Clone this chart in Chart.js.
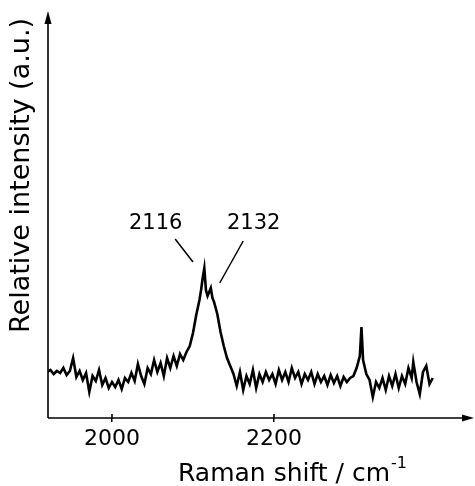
<!DOCTYPE html>
<html>
<head>
<meta charset="utf-8">
<script src="https://cdn.jsdelivr.net/npm/chart.js@4/dist/chart.umd.min.js"></script>
<style>
  body { margin: 0; background: #fff; }
  #wrap { width: 475px; height: 486px; }
</style>
</head>
<body>
<div id="wrap"><canvas id="ramanChart"></canvas></div>
<script>
// Raman shift (cm-1) and relative intensity
const shift = [
  1920, 1924, 1928, 1932, 1936, 1940, 1944, 1948, 1952, 1956,
  1960, 1964, 1968, 1972, 1976, 1980, 1984, 1988, 1992, 1996,
  2000, 2004, 2008, 2012, 2016, 2020, 2024, 2028, 2032, 2036,
  2040, 2044, 2048, 2052, 2056, 2060, 2064, 2068, 2072, 2076,
  2080, 2084, 2088, 2092, 2096, 2100, 2104, 2108, 2110, 2112,
  2114, 2116, 2118, 2120, 2122, 2124, 2126, 2130, 2134, 2138,
  2142, 2146, 2150, 2154, 2158, 2162, 2166, 2170, 2174, 2178,
  2182, 2186, 2190, 2194, 2198, 2202, 2206, 2210, 2214, 2218,
  2222, 2226, 2230, 2234, 2238, 2242, 2246, 2250, 2254, 2258,
  2262, 2266, 2270, 2274, 2278, 2282, 2286, 2290, 2294, 2298,
  2302, 2306, 2308, 2310, 2314, 2318, 2322, 2326, 2330, 2334,
  2338, 2342, 2346, 2350, 2354, 2358, 2362, 2366, 2370, 2372,
  2376, 2380, 2384, 2388, 2392, 2396
];
const intensity = [
  46, 48, 44, 47, 45, 50, 43, 47, 60, 41,
  47, 38, 45, 26, 42, 37, 48, 33, 40, 30,
  36, 31, 38, 29, 40, 36, 45, 37, 54, 42,
  34, 50, 44, 58, 46, 55, 42, 60, 50, 62,
  52, 64, 58, 66, 72, 85, 103, 118, 128, 140,
  150, 128, 122, 126, 130, 120, 116, 104, 86, 72,
  60, 52, 44, 32, 46, 28, 42, 34, 48, 30,
  44, 36, 46, 38, 44, 34, 48, 38, 46, 36,
  50, 40, 46, 34, 44, 38, 46, 34, 44, 36,
  42, 33, 43, 35, 42, 32, 41, 36, 40, 42,
  50, 62, 91, 58, 44, 38, 21, 36, 30, 40,
  28, 42, 32, 44, 30, 42, 34, 50, 40, 56,
  36, 24, 46, 52, 34, 40
];
const xTicks = [2000, 2200];

// peak labels with leader lines (data coordinates)
const peakLabels = ['2116', '2132'];
const labelAt = [[2054, 194], [2175, 194]];
const leaderFrom = [[2078, 179], [2162, 177]];
const leaderTo = [[2100, 156], [2133, 135]];

const fontFamily = '"DejaVu Sans", sans-serif';

const axesAndNotes = {
  id: 'axesAndNotes',
  afterDraw(chart) {
    const ctx = chart.ctx;
    const area = chart.chartArea;
    const xs = chart.scales.x;
    const ys = chart.scales.y;
    ctx.save();
    ctx.strokeStyle = '#000';
    ctx.fillStyle = '#000';
    ctx.lineWidth = 1.6;

    // axis lines
    ctx.beginPath();
    ctx.moveTo(area.left, area.bottom);
    ctx.lineTo(area.left, area.top - 2);
    ctx.moveTo(area.left, area.bottom);
    ctx.lineTo(area.right + 1, area.bottom);
    ctx.stroke();

    // arrow heads
    ctx.beginPath();
    ctx.moveTo(area.left, area.top - 7);
    ctx.lineTo(area.left - 3.5, area.top + 6);
    ctx.lineTo(area.left + 3.5, area.top + 6);
    ctx.closePath();
    ctx.fill();
    ctx.beginPath();
    ctx.moveTo(area.right + 4, area.bottom);
    ctx.lineTo(area.right - 8, area.bottom - 3.5);
    ctx.lineTo(area.right - 8, area.bottom + 3.5);
    ctx.closePath();
    ctx.fill();

    // small tick stubs above the axis
    xTicks.forEach(v => {
      const px = xs.getPixelForValue(v);
      ctx.beginPath();
      ctx.moveTo(px, area.bottom - 4);
      ctx.lineTo(px, area.bottom);
      ctx.stroke();
    });

    // peak annotations
    ctx.lineWidth = 1.5;
    ctx.font = '21px ' + fontFamily;
    ctx.textAlign = 'center';
    ctx.textBaseline = 'middle';
    peakLabels.forEach((txt, i) => {
      ctx.fillText(txt, xs.getPixelForValue(labelAt[i][0]), ys.getPixelForValue(labelAt[i][1]));
      ctx.beginPath();
      ctx.moveTo(xs.getPixelForValue(leaderFrom[i][0]), ys.getPixelForValue(leaderFrom[i][1]));
      ctx.lineTo(xs.getPixelForValue(leaderTo[i][0]), ys.getPixelForValue(leaderTo[i][1]));
      ctx.stroke();
    });

    // x axis title with superscript
    const main = 'Raman shift / cm';
    ctx.font = '25px ' + fontFamily;
    ctx.textAlign = 'left';
    ctx.textBaseline = 'alphabetic';
    const w = ctx.measureText(main).width;
    ctx.font = '16px ' + fontFamily;
    const ws = ctx.measureText('-1').width;
    const x0 = 292 - (w + ws) / 2;
    ctx.font = '25px ' + fontFamily;
    ctx.fillText(main, x0, 481);
    ctx.font = '16px ' + fontFamily;
    ctx.fillText('-1', x0 + w + 1, 468);
    ctx.restore();
  }
};

document.addEventListener('DOMContentLoaded', () => {
  const ctx = document.getElementById('ramanChart').getContext('2d');

  new Chart(ctx, {
    type: 'line',
    data: {
      labels: shift,
      datasets: [{
        label: 'Raman',
        data: shift.map((s, i) => ({ x: s, y: intensity[i] })),
        borderColor: '#000',
        borderWidth: 2.6,
        pointRadius: 0,
        tension: 0,
        fill: false
      }]
    },
    options: {
      responsive: true,
      maintainAspectRatio: false,
      animation: false,
      layout: { padding: { top: 18, right: 5, left: 0, bottom: 0 } },
      plugins: {
        legend: { display: false },
        tooltip: { enabled: false }
      },
      scales: {
        x: {
          type: 'linear',
          min: 1921,
          max: 2442,
          afterBuildTicks: scale => { scale.ticks = xTicks.map(v => ({ value: v })); },
          afterFit: scale => { scale.height = 68; },
          ticks: {
            color: '#000',
            font: { family: fontFamily, size: 22 },
            padding: 4,
            maxRotation: 0,
            autoSkip: false,
            callback: v => String(v)
          },
          grid: { drawOnChartArea: false, color: '#000', lineWidth: 1.5, tickLength: 4 },
          border: { display: false }
        },
        y: {
          min: 0,
          max: 400,
          afterFit: scale => { scale.width = 48; },
          ticks: { display: false },
          grid: { display: false },
          border: { display: false },
          title: {
            display: true,
            text: 'Relative intensity (a.u.)',
            align: 'end',
            color: '#000',
            font: { family: fontFamily, size: 27 },
            padding: { top: 6, bottom: 0 }
          }
        }
      }
    },
    plugins: [axesAndNotes]
  });
});
</script>
</body>
</html>
